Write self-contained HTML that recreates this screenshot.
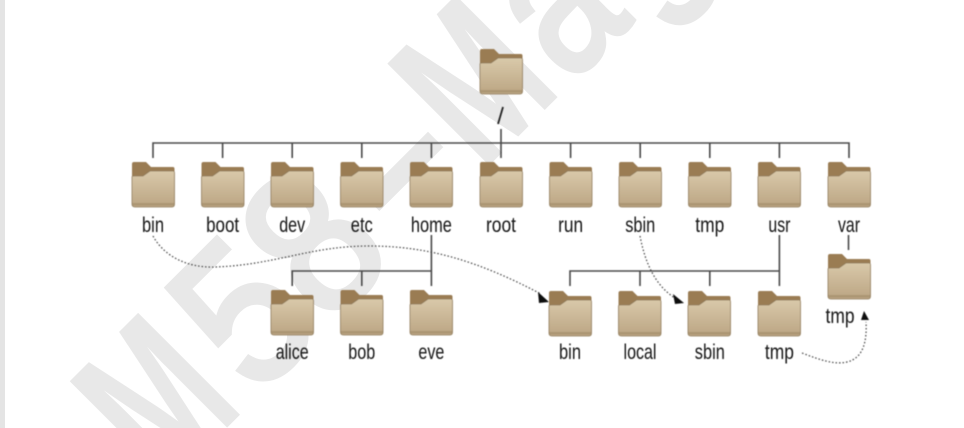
<!DOCTYPE html>
<html>
<head>
<meta charset="utf-8">
<style>
html,body{margin:0;padding:0;background:#fff;width:964px;height:428px;overflow:hidden}
svg{display:block;overflow:hidden}
text{font-family:"Liberation Sans",sans-serif}
.l{font-size:21px;fill:#161616;text-anchor:middle}
.w{font-size:208px;font-weight:bold;fill:#e8e8e8;stroke:#e8e8e8;stroke-width:1px}
.r{font-size:204px;font-weight:normal;fill:#e8e8e8;stroke:#e8e8e8;stroke-width:6px}
</style>
</head>
<body>
<svg width="964" height="428" viewBox="0 0 964 428" xmlns="http://www.w3.org/2000/svg">
<defs>
<clipPath id="c"><rect width="964" height="428"/></clipPath>
<linearGradient id="g" x1="0" y1="0" x2="0" y2="1">
<stop offset="0" stop-color="#d9c9aa"/>
<stop offset="1" stop-color="#bba583"/>
</linearGradient>
<filter id="b" x="-10%" y="-10%" width="120%" height="120%"><feGaussianBlur stdDeviation="0.5"/></filter>
<g id="f">
<path d="M0 3 Q0 1 2 1 H14 L19 6 H41 Q42.500 6 42.500 8 V22 H0 Z" fill="#9a7c52"/>
<path d="M0 16 Q0 15 2 15 H11 L18 10 H41 Q42.500 10 42.500 12 V43 Q42.500 46 40 46 H3 Q0 46 0 43 Z" fill="url(#g)" stroke="#8f7a5a" stroke-width="0.8"/>
<rect x="0.500" y="42" width="41.500" height="2.500" fill="#ac9673"/>
</g>
</defs>
<rect width="964" height="428" fill="#fff"/>
<rect x="0" y="0" width="5" height="428" fill="#e4e4e4"/>
<g clip-path="url(#c)">
<text class="w" transform="matrix(.467 -.467 .707 .707 165 489)">M</text>
<text class="r" transform="matrix(.622 -.622 .707 .707 256.300 397.700)">5</text>
<text class="r" transform="matrix(.622 -.622 .707 .707 327 327)">8</text>
<text class="w" transform="matrix(.615 -.615 .707 .707 407.600 246.400)">–</text>
<text class="w" transform="matrix(.467 -.467 .707 .707 482.600 171.400)">M</text>
<text class="r" transform="matrix(.566 -.566 .707 .707 569.500 84.500)">a</text>
<text class="r" transform="matrix(.566 -.566 .707 .707 641.600 12.400)">g</text>
</g>
<g filter="url(#b)">
<g stroke="#4a4a4a" stroke-width="1.600" fill="none">
<path d="M153 158V143H849V158M222.600 143V158M292.200 143V158M361.800 143V158M431.400 143V158M501 129V158M570.600 143V158M640.200 143V158M709.800 143V158M779.400 143V158"/>
<path d="M431.400 235V286M292.200 286V271H431.400M361.800 271V286"/>
<path d="M779.400 235V286M570 286V271H779.400M640 286V271M709.800 286V271"/>
<path d="M848.500 235V250"/>
<path d="M503 107L498 124" stroke="#222" stroke-width="1.800"/>
</g>
<g fill="none" stroke="#444" stroke-width="1.200" stroke-dasharray="1.500 2">
<path d="M153 236C165 258 190 268 215 267C275 265 310 246 369 246C430 246 480 262 541 294"/>
<path d="M640 236C645 262 655 288 680 301"/>
<path d="M802 353C820 360 835 365 847 362C864 358 867 340 866 322"/>
</g>
<path d="M538 292L549 302L539 303Z M673 294L684 303L675 304Z M861 320L869 320L864 311Z" fill="#111"/>
<use href="#f" x="480" y="48"/>
<use href="#f" x="132" y="161"/><use href="#f" x="201.500" y="161"/><use href="#f" x="271" y="161"/><use href="#f" x="340.500" y="161"/><use href="#f" x="410" y="161"/><use href="#f" x="480" y="161"/><use href="#f" x="549.500" y="161"/><use href="#f" x="619" y="161"/><use href="#f" x="688.500" y="161"/><use href="#f" x="758" y="161"/><use href="#f" x="828" y="161"/>
<use href="#f" x="271" y="289"/><use href="#f" x="340.500" y="289"/><use href="#f" x="410" y="289"/>
<use href="#f" x="549" y="290"/><use href="#f" x="618.500" y="290"/><use href="#f" x="688" y="290"/><use href="#f" x="758" y="290"/>
<use href="#f" x="828" y="253"/>
<text class="l" x="153" y="232" textLength="22" lengthAdjust="spacingAndGlyphs">bin</text>
<text class="l" x="222.600" y="232" textLength="33" lengthAdjust="spacingAndGlyphs">boot</text>
<text class="l" x="292.200" y="232" textLength="26" lengthAdjust="spacingAndGlyphs">dev</text>
<text class="l" x="361.800" y="232" textLength="22" lengthAdjust="spacingAndGlyphs">etc</text>
<text class="l" x="431.400" y="232" textLength="41" lengthAdjust="spacingAndGlyphs">home</text>
<text class="l" x="501" y="232" textLength="30" lengthAdjust="spacingAndGlyphs">root</text>
<text class="l" x="570.600" y="232" textLength="25" lengthAdjust="spacingAndGlyphs">run</text>
<text class="l" x="640.200" y="232" textLength="30" lengthAdjust="spacingAndGlyphs">sbin</text>
<text class="l" x="709.800" y="232" textLength="29" lengthAdjust="spacingAndGlyphs">tmp</text>
<text class="l" x="779.400" y="232" textLength="22" lengthAdjust="spacingAndGlyphs">usr</text>
<text class="l" x="849" y="232" textLength="22" lengthAdjust="spacingAndGlyphs">var</text>
<text class="l" x="292.200" y="359" textLength="33" lengthAdjust="spacingAndGlyphs">alice</text>
<text class="l" x="361.800" y="359" textLength="27" lengthAdjust="spacingAndGlyphs">bob</text>
<text class="l" x="431.400" y="359" textLength="26" lengthAdjust="spacingAndGlyphs">eve</text>
<text class="l" x="570" y="359" textLength="22" lengthAdjust="spacingAndGlyphs">bin</text>
<text class="l" x="640" y="359" textLength="33" lengthAdjust="spacingAndGlyphs">local</text>
<text class="l" x="709.800" y="359" textLength="30" lengthAdjust="spacingAndGlyphs">sbin</text>
<text class="l" x="779.400" y="359" textLength="29" lengthAdjust="spacingAndGlyphs">tmp</text>
<text class="l" x="840" y="323" textLength="29" lengthAdjust="spacingAndGlyphs">tmp</text>
</g>
</svg>
</body>
</html>
